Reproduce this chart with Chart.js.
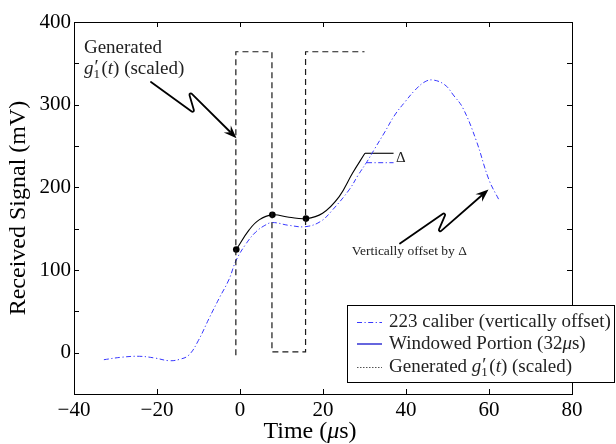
<!DOCTYPE html>
<html><head><meta charset="utf-8">
<script src="https://cdn.jsdelivr.net/npm/chart.js@4"></script>
<style>html,body{margin:0;padding:0;background:#fff}</style>
</head><body>
<canvas id="c" width="616" height="444" style="width:616px;height:444px;display:block"></canvas>
<script>
// ---- data ----
const caliberX = [-32.8,-28.5,-24.2,-20.5,-17.1,-14.5,-12.3,-10,-7.5,-5,-2.7,-0.9,1.5,3.8,6,7.8,11.8,15.9,19.5,22.3,26.3,28.5,30.6,32.5,34.9,37.3,39.8,42.2,44.6,46.6,49.4,51.4,53.7,56.9,60,62.4];
const caliberY = [-8.5,-5.5,-4.4,-6.5,-9.7,-8,-2.8,15,41,66,88,112,132,146,154,157.4,154,152.5,159,172.7,197,215,231,247,267,287.5,303.6,317.7,327.8,329.8,323.8,311.7,296,257,209,184.8];
const windowX = [-0.9,2.2,4.6,7.8,11.8,15.9,19.9,23.9,27.1,30.1];
const windowY = [124.8,148.5,160.6,166.7,163.9,162.2,168.7,188.8,217,241.2];
const genX = [-1,-1,7.7,7.7,15.8,15.8,30];
const genY = [-3,364,364,1,1,364,364];
const markerX = [-0.9,7.8,15.9];
const markerY = [124.8,166.7,162.2];
const deltaX = [30.1,37.0];
const deltaBlackY = [241.2,241.2];
const deltaBlueX = [30.6,37.0];
const deltaBlueY = [229.8,229.8];
const xTicks = [-40,-20,0,20,40,60,80];
const yTicks = [-50,0,50,100,150,200,250,300,350,400];
const yLabelled = [0,100,200,300,400];
const seriesLabels = ['223 caliber (vertically offset)','Windowed Portion (32μs)','Generated g′1(t) (scaled)'];
const xTitle = 'Time (μs)';
const yTitle = 'Received Signal (mV)';

const FONT = '"Liberation Serif", "Times New Roman", serif';
const BLUE = 'rgb(55,55,255)';
const DASHDOT = [5,2.5,1.2,2.5];
const pts = (xs, ys) => xs.map((x,i)=>({x, y: ys[i]}));
const fmt = v => v < 0 ? '\u2212' + Math.abs(v) : String(v);

function rich(ctx, x, y, parts, size){
  let cx = x;
  for (const p of parts){
    if (p.ps){
      ctx.font = `${size}px ${FONT}`;
      ctx.fillText('\u2032', cx + 1, y - 1);
      ctx.font = `${Math.round(size*0.7)}px ${FONT}`;
      ctx.fillText(p.ps, cx, y + size*0.22);
      cx += ctx.measureText(p.ps).width + 1.5;
      continue;
    }
    ctx.font = `${p.i ? 'italic ' : ''}${size}px ${FONT}`;
    ctx.fillText(p.t, cx, y);
    cx += ctx.measureText(p.t).width;
  }
  return cx - x;
}
const gParts = [{t:'g',i:true},{ps:'1'},{t:'('},{t:'t',i:true},{t:') (scaled)'}];

function arrow(ctx, P, w){
  ctx.save();
  ctx.strokeStyle = '#000'; ctx.fillStyle = '#000';
  ctx.lineWidth = w; ctx.lineJoin = 'round'; ctx.lineCap = 'round';
  const n = P.length;
  const tip = P[n-1], prev = P[n-2];
  const ang = Math.atan2(tip[1]-prev[1], tip[0]-prev[0]);
  const hl = 13, hw = 5;
  const end = [tip[0]-Math.cos(ang)*hl*0.7, tip[1]-Math.sin(ang)*hl*0.7];
  ctx.beginPath();
  ctx.moveTo(P[0][0], P[0][1]);
  for (let i=1;i<n-1;i++) ctx.arcTo(P[i][0],P[i][1],P[i+1][0],P[i+1][1],1.4);
  ctx.lineTo(end[0], end[1]);
  ctx.stroke();
  const bx = tip[0]-Math.cos(ang)*hl, by = tip[1]-Math.sin(ang)*hl;
  const nx = -Math.sin(ang), ny = Math.cos(ang);
  ctx.beginPath();
  ctx.moveTo(tip[0], tip[1]);
  ctx.lineTo(bx + nx*hw, by + ny*hw);
  ctx.lineTo(tip[0]-Math.cos(ang)*hl*0.65, tip[1]-Math.sin(ang)*hl*0.65);
  ctx.lineTo(bx - nx*hw, by - ny*hw);
  ctx.closePath(); ctx.fill();
  ctx.restore();
}

const deco = {
  id: 'deco',
  afterDatasetsDraw(chart){
    const {ctx, chartArea: a, scales: {x, y}} = chart;
    const px = v => x.getPixelForValue(v), py = v => y.getPixelForValue(v);
    ctx.save();
    // frame
    ctx.strokeStyle = '#000'; ctx.lineWidth = 1;
    ctx.strokeRect(Math.round(a.left)+0.5, Math.round(a.top)+0.5, Math.round(a.right-a.left), Math.round(a.bottom-a.top));
    // inner ticks
    ctx.beginPath();
    const tl = 5;
    xTicks.forEach(v => { const X = Math.round(px(v))+0.5; ctx.moveTo(X,a.bottom); ctx.lineTo(X,a.bottom-tl); ctx.moveTo(X,a.top); ctx.lineTo(X,a.top+tl); });
    yTicks.forEach(v => { const Y = Math.round(py(v))+0.5; ctx.moveTo(a.left,Y); ctx.lineTo(a.left+tl,Y); ctx.moveTo(a.right,Y); ctx.lineTo(a.right-tl,Y); });
    ctx.stroke();
    // x axis title (italic mu)
    ctx.fillStyle = '#000'; ctx.textBaseline = 'alphabetic'; ctx.textAlign = 'left';
    const tParts = [{t:'Time ('},{t:'μ',i:true},{t:'s)'}];
    let tw = 0;
    tParts.forEach(p => { ctx.font = `${p.i?'italic ':''}24px ${FONT}`; tw += ctx.measureText(p.t).width; });
    rich(ctx, (a.left + a.right)/2 - 13 - tw/2, 438, tParts, 24);
    // annotations
    ctx.fillStyle = '#222';
    ctx.font = `19px ${FONT}`;
    ctx.fillText('Generated', px(-37.6), py(362.4));
    rich(ctx, px(-37.6), py(337), gParts, 19);
    ctx.font = `13.5px ${FONT}`;
    ctx.fillText('Vertically offset by \u0394', px(26.9), py(118.1));
    ctx.font = `15px ${FONT}`;
    ctx.fillText('\u0394', px(37.6), py(230.6));
    arrow(ctx, [[px(-21.45),py(327.4)],[px(-10.84),py(288.7)],[px(-12.53),py(317.7)],[px(-0.84),py(259.5)]], 1.8);
    arrow(ctx, [[px(38.55),py(132.1)],[px(49.88),py(171.4)],[px(47.35),py(142.3)],[px(59.88),py(197.4)]], 1.8);
    // legend
    const L = 347, T = 305, R = 615, B = 383;
    ctx.fillStyle = '#fff'; ctx.fillRect(L, T, R-L, B-T);
    ctx.strokeStyle = '#000'; ctx.lineWidth = 1; ctx.setLineDash([]);
    ctx.strokeRect(L+0.5, T+0.5, R-L-1, B-T-1);
    const rows = [322, 343.5, 367];
    const styles = [
      {c: BLUE, d: DASHDOT, w: 1},
      {c: 'rgb(0,0,200)', d: [], w: 1.2},
      {c: '#555', d: [1.5,1.5], w: 1}
    ];
    rows.forEach((ry, i) => {
      ctx.strokeStyle = styles[i].c; ctx.lineWidth = styles[i].w; ctx.setLineDash(styles[i].d);
      ctx.beginPath(); ctx.moveTo(357, ry+0.5); ctx.lineTo(382, ry+0.5); ctx.stroke();
    });
    ctx.setLineDash([]);
    ctx.fillStyle = '#222';
    ctx.font = `19px ${FONT}`;
    ctx.fillText(seriesLabels[0], 389, 326.5);
    rich(ctx, 389, 349, [{t:'Windowed Portion (32'},{t:'μ',i:true},{t:'s)'}], 19);
    rich(ctx, 389, 372, [{t:'Generated '}].concat(gParts), 19);
    ctx.restore();
  }
};

new Chart(document.getElementById('c'), {
  type: 'scatter',
  data: { datasets: [
    { label: seriesLabels[2], data: pts(genX, genY), showLine: true, borderColor: '#1a1a1a', borderWidth: 1.2, borderDash: [6,4], pointRadius: 0, tension: 0 },
    { label: seriesLabels[0], data: pts(caliberX, caliberY), showLine: true, borderColor: BLUE, borderWidth: 1, borderDash: DASHDOT, pointRadius: 0, tension: 0.4 },
    { label: seriesLabels[1], data: pts(windowX, windowY), showLine: true, borderColor: '#000', borderWidth: 1.1, pointRadius: 0, tension: 0.4 },
    { label: 'delta-black', data: pts(deltaX, deltaBlackY), showLine: true, borderColor: '#000', borderWidth: 1.1, pointRadius: 0 },
    { label: 'delta-blue', data: pts(deltaBlueX, deltaBlueY), showLine: true, borderColor: BLUE, borderWidth: 1, borderDash: DASHDOT, pointRadius: 0 },
    { label: 'window points', data: pts(markerX, markerY), showLine: false, pointRadius: 3.3, pointBackgroundColor: '#000', pointBorderColor: '#000', borderWidth: 0 }
  ]},
  options: {
    responsive: false, animation: false, devicePixelRatio: 1,
    layout: { padding: { left: 0, right: 44, top: 22, bottom: 0 } },
    plugins: { legend: { display: false }, tooltip: { enabled: false } },
    scales: {
      x: {
        type: 'linear', min: -40, max: 80,
        afterBuildTicks: s => { s.ticks = xTicks.map(v => ({ value: v })); },
        afterFit: s => { s.height = 50; },
        grid: { display: false, drawTicks: false }, border: { display: false },
        ticks: { font: { family: FONT, size: 21 }, color: '#000', padding: 4, maxRotation: 0, autoSkip: false, callback: v => fmt(v) },
        title: { display: false, text: xTitle }
      },
      y: {
        type: 'linear', min: -50, max: 400,
        afterBuildTicks: s => { s.ticks = yTicks.map(v => ({ value: v })); },
        afterFit: s => { s.width = 74; },
        grid: { display: false, drawTicks: false }, border: { display: false },
        ticks: { font: { family: FONT, size: 21 }, color: '#000', padding: 3, autoSkip: false, callback: v => yLabelled.includes(v) ? fmt(v) : '' },
        title: { display: true, text: yTitle, font: { family: FONT, size: 24 }, color: '#000', padding: { top: 4, bottom: 0 } }
      }
    }
  },
  plugins: [deco]
});
</script>
</body></html>
